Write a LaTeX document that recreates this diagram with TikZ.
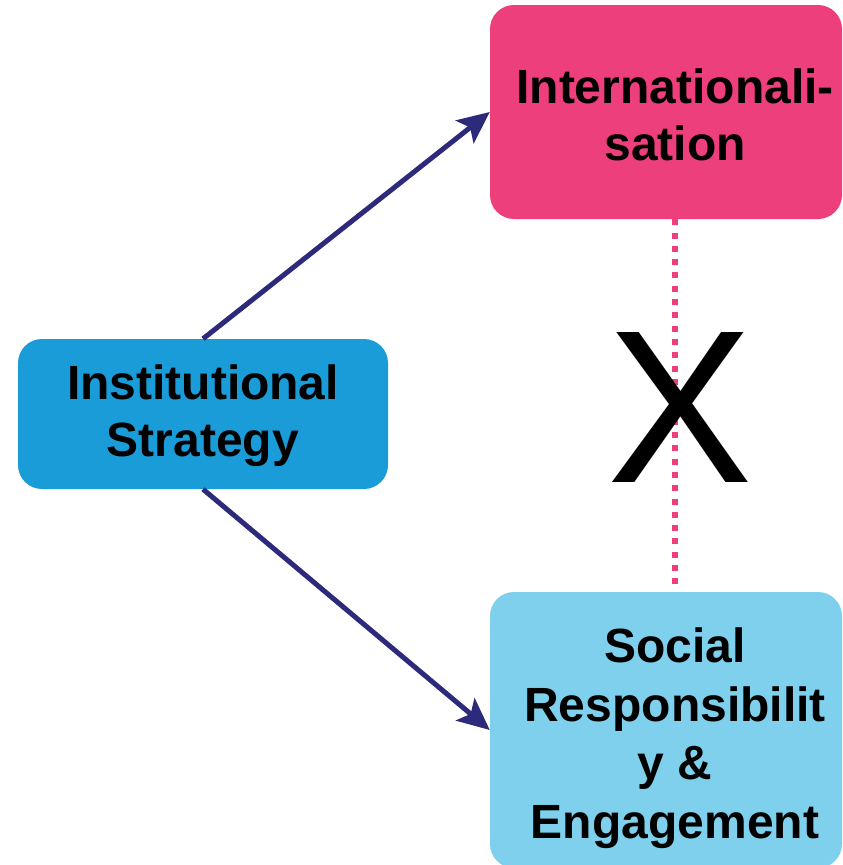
\documentclass[tikz,border=0pt]{standalone}
\usepackage{fontspec}
\setmainfont{Liberation Sans}
\usetikzlibrary{arrows.meta}

\definecolor{stratBlue}{HTML}{199CD8}
\definecolor{intlPink}{HTML}{ED3F7B}
\definecolor{socBlue}{HTML}{7ED0EC}
\definecolor{arrowNavy}{HTML}{2D2A7B}

\begin{document}
\begin{tikzpicture}[x=1pt, y=1pt,
        box/.style={draw=none, rounded corners=24pt, inner sep=0pt},
        boxtext/.style={align=center, font=\fontsize{48}{57}\selectfont\bfseries},
        link/.style={arrowNavy, line width=5pt, -{Stealth[length=32pt, width=29pt, inset=7pt]}}
    ]
    \useasboundingbox (0, 0) rectangle (843, -865);

    % boxes
    \node[box, fill=stratBlue, minimum width=370pt, minimum height=150pt] (strat) at (203, -414) {};
    \node[box, fill=intlPink, minimum width=352pt, minimum height=214pt] (intl) at (666, -112) {};
    \node[box, fill=socBlue, minimum width=352pt, minimum height=276pt] (soc) at (666, -730) {};

    \node[boxtext] (strattxt) at (203, -416) {Institutional\\Strategy};
    \node[boxtext] (intltxt) at (675, -115) {Internationali-\\sation};
    \node[boxtext, font=\fontsize{48}{58.5}\selectfont\bfseries] (soctxt) at (675, -738) {Social\\Responsibilit\\y \&\\Engagement};

    % links
    \draw[link] (strat.north) -- (intl.west);
    \draw[link] (strat.south) -- (soc.west);
    \draw[intlPink, line width=6pt, dash pattern=on 6pt off 7.3pt] (intltxt |- intl.south) -- ([yshift=6pt]soctxt |- soc.north);

    \node[font=\fontsize{218}{218}\selectfont] (cross) at (680, -408) {X};
\end{tikzpicture}
\end{document}
